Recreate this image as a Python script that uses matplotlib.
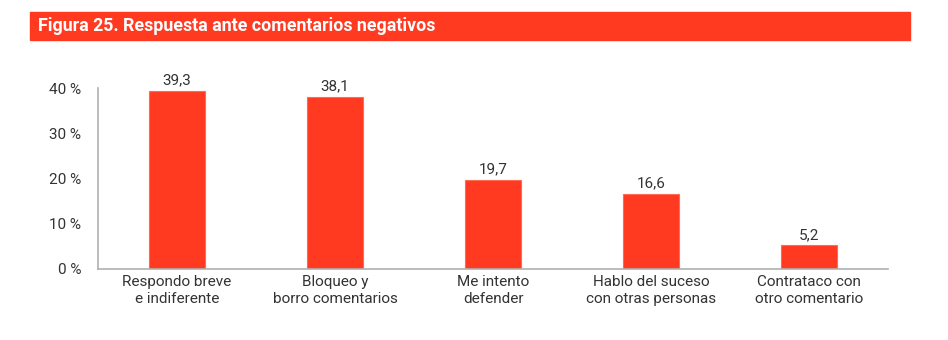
import matplotlib.pyplot as plt
from matplotlib.patches import Rectangle

categorias = ["Respondo breve\ne indiferente", "Bloqueo y\nborro comentarios",
              "Me intento\ndefender", "Hablo del suceso\ncon otras personas",
              "Contrataco con\notro comentario"]
valores = [39.3, 38.1, 19.7, 16.6, 5.2]
ticks_y = [0, 10, 20, 30, 40]

rojo = "#ff3a21"
gris_texto = "#333333"

plt.rcParams["font.family"] = ["Roboto", "DejaVu Sans"]

fig = plt.figure(figsize=(9.48, 3.4), dpi=100)

# barra del título
fig.patches.append(Rectangle((30 / 948, 1 - 40 / 340), 880 / 948, 28 / 340,
                             transform=fig.transFigure, color=rojo, zorder=0))
fig.text(38 / 948, 1 - 26 / 340, "Figura 25. Respuesta ante comentarios negativos",
         color="white", fontsize=12.8, fontweight="bold", va="center", ha="left")

ax = fig.add_axes([98 / 948, 71 / 340, 790 / 948, 181 / 340])
x = range(len(valores))
barras = ax.bar(x, valores, width=0.355, color=rojo, edgecolor="#ff6a55", linewidth=0.8)

for xi, v in zip(x, valores):
    ax.text(xi, v + 0.8, f"{v:.1f}".replace(".", ","), ha="center", va="bottom",
            fontsize=11, color=gris_texto)

ax.set_xlim(-0.5, len(valores) - 0.5)
ax.set_ylim(0, 40)
ax.set_yticks(ticks_y)
ax.set_yticklabels([f"{t} %" for t in ticks_y])
ax.set_xticks(list(x))
ax.set_xticklabels(categorias, linespacing=1.35)
ax.tick_params(axis="both", length=0, labelsize=11, colors=gris_texto)
ax.tick_params(axis="y", pad=12)
ax.tick_params(axis="x", pad=4)

for s in ["top", "right"]:
    ax.spines[s].set_visible(False)
for s in ["left", "bottom"]:
    ax.spines[s].set_color("#b0b0b0")
    ax.spines[s].set_linewidth(1.2)

fig.savefig("out.png", dpi=100)
